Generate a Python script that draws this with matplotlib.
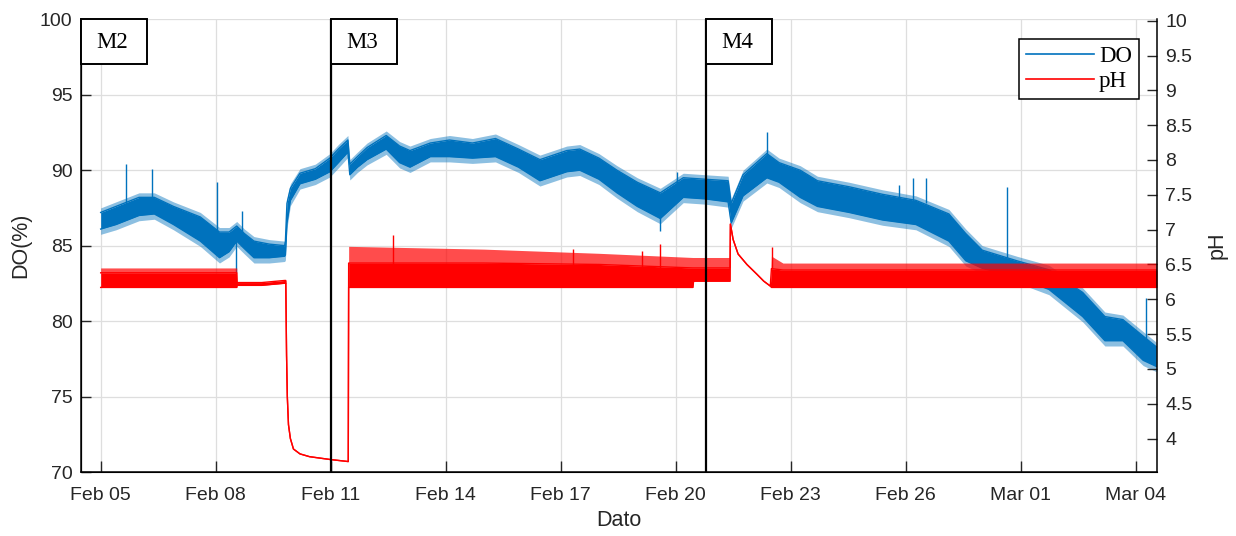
import datetime as dt
import numpy as np
import matplotlib
matplotlib.use("Agg")
import matplotlib.pyplot as plt
import matplotlib.dates as mdates
import matplotlib.transforms as mtransforms
from matplotlib.patches import Rectangle
from matplotlib.lines import Line2D

# days after Feb 05 (2019) 00:00
start = dt.datetime(2019, 2, 5)

tick_labels = ['Feb 05', 'Feb 08', 'Feb 11', 'Feb 14', 'Feb 17', 'Feb 20',
               'Feb 23', 'Feb 26', 'Mar 01', 'Mar 04']

# DO(%) band: lower / upper edge of the noisy trace
do_t = [0.0, 0.4, 1.0, 1.4, 1.9, 2.6, 3.1, 3.35, 3.55, 3.75, 4.0, 4.4, 4.8, 4.82,
        4.86, 4.95, 5.2, 5.6, 5.98, 6.2, 6.45, 6.5, 6.7, 6.95, 7.45, 7.8, 8.07,
        8.6, 9.1, 9.7, 10.3, 10.9, 11.46, 12.16, 12.5, 13.0, 13.47, 14.0, 14.6,
        15.2, 15.77, 16.37, 16.45, 16.76, 17.38, 17.7, 18.25, 18.7, 19.53, 20.4,
        21.27, 22.13, 22.57, 23.0, 23.9, 24.74, 25.62, 26.2, 26.67, 27.2, 27.54]
do_lo = [86.1, 86.4, 87.0, 87.1, 86.4, 85.3, 84.2, 84.6, 85.3, 84.8, 84.2, 84.2, 84.3, 84.4,
         86.5, 88.0, 89.1, 89.4, 89.9, 90.5, 91.2, 89.7, 90.2, 90.7, 91.4, 90.5, 90.2,
         90.9, 90.9, 90.8, 90.9, 90.2, 89.3, 89.9, 90.0, 89.4, 88.5, 87.6, 86.8,
         88.2, 88.1, 87.9, 86.5, 88.3, 89.5, 89.2, 88.2, 87.6, 87.2, 86.7,
         86.4, 85.3, 84.0, 83.5, 82.9, 82.1, 80.3, 78.7, 78.7, 77.4, 77.0]
do_hi = [87.2, 87.6, 88.2, 88.2, 87.6, 86.9, 85.9, 85.9, 86.3, 85.8, 85.3, 85.1, 85.0, 85.3,
         87.8, 88.8, 89.8, 90.1, 90.8, 91.4, 92.0, 90.4, 90.9, 91.5, 92.3, 91.6, 91.3,
         91.8, 92.0, 91.8, 92.1, 91.4, 90.7, 91.3, 91.4, 90.8, 90.0, 89.2, 88.5,
         89.5, 89.4, 89.3, 87.8, 89.7, 91.1, 90.5, 90.0, 89.3, 88.9, 88.4,
         88.0, 87.1, 85.8, 84.7, 84.0, 83.4, 81.9, 80.3, 80.1, 79.0, 78.3]
# isolated DO spikes: time, from, to
do_spike_t = [0.66, 1.33, 3.04, 3.52, 3.68, 14.6, 15.04, 17.38, 20.83, 21.2, 21.53, 23.65, 27.27]
do_spike_a = [87.6, 88.1, 85.8, 85.6, 85.8, 87.5, 88.8, 91.0, 87.8, 87.8, 87.8, 84.2, 78.6]
do_spike_b = [90.4, 90.1, 89.2, 83.2, 87.3, 86.0, 89.9, 92.5, 89.0, 89.5, 89.5, 88.9, 81.5]

# pH: lower edge, top of solid part, top of the dense pulses
ph_t = [0.0, 3.55, 3.56, 4.2, 4.8, 4.83, 4.85, 4.87, 4.90, 4.95, 5.03, 5.2, 5.45,
        5.98, 6.46, 6.47, 10.0, 13.0, 15.45, 15.47, 16.42, 16.43, 16.5, 16.63,
        16.86, 17.12, 17.3, 17.47, 17.5, 17.8, 27.56]
ph_lo = [6.17, 6.17, 6.20, 6.20, 6.23, 6.23, 5.20, 4.60, 4.20, 4.00, 3.85, 3.78, 3.74,
         3.70, 3.67, 6.17, 6.17, 6.17, 6.17, 6.26, 6.26, 7.08, 6.86, 6.65,
         6.50, 6.36, 6.26, 6.19, 6.17, 6.17, 6.17]
ph_hi = [6.38, 6.38, 6.24, 6.24, 6.27, 6.27, 5.20, 4.60, 4.20, 4.00, 3.85, 3.78, 3.74,
         3.70, 3.67, 6.52, 6.52, 6.50, 6.45, 6.45, 6.45, 7.08, 6.86, 6.65,
         6.50, 6.36, 6.26, 6.19, 6.44, 6.42, 6.42]
ph_top = [6.45, 6.45, 6.24, 6.24, 6.27, 6.27, 5.20, 4.60, 4.20, 4.00, 3.85, 3.78, 3.74,
          3.70, 3.67, 6.76, 6.72, 6.66, 6.60, 6.60, 6.60, 7.08, 6.86, 6.65,
          6.50, 6.36, 6.26, 6.19, 6.62, 6.52, 6.52]
ph_spike_t = [7.63, 12.33, 14.12, 14.6, 17.52]
ph_spike_v = [6.93, 6.72, 6.69, 6.79, 6.75]

# sample changes
event_names = ['M2', 'M3', 'M4']
event_t = [-0.514, 6.0, 15.79]

do_color = '#0072BD'
ph_color = '#FF0000'

plt.rcParams['font.family'] = ['Liberation Sans', 'DejaVu Sans']

t0 = mdates.date2num(start)
def tx(days):
    return t0 + np.asarray(days, dtype=float)

fig = plt.figure(figsize=(12.36, 5.36), dpi=100)
ax = fig.add_axes([0.0655, 0.1194, 0.8706, 0.8446])
ax2 = ax.twinx()

# DO: solid core plus a soft fringe for the noise
lo = np.array(do_lo)
hi = np.array(do_hi)
ax.fill_between(tx(do_t), lo, hi, color=do_color, lw=0, zorder=2)
ax.fill_between(tx(do_t), lo - 0.35, lo, color=do_color, lw=0, alpha=0.45, zorder=2)
ax.fill_between(tx(do_t), hi, hi + 0.3, color=do_color, lw=0, alpha=0.45, zorder=2)
ax.plot(tx(do_t), lo, color=do_color, lw=1, zorder=2)
ax.plot(tx(do_t), hi, color=do_color, lw=1, zorder=2)
ax.vlines(tx(do_spike_t), do_spike_a, do_spike_b, color=do_color, lw=1, zorder=2)

# pH: solid part plus the lighter pulse region above it
ax2.fill_between(tx(ph_t), ph_lo, ph_hi, color=ph_color, lw=0, zorder=2)
ax2.fill_between(tx(ph_t), ph_hi, ph_top, color=ph_color, lw=0, alpha=0.7, zorder=2)
ax2.plot(tx(ph_t), ph_lo, color=ph_color, lw=1, zorder=2)
ax2.plot(tx(ph_t), ph_hi, color=ph_color, lw=1, zorder=2)
ax2.vlines(tx(ph_spike_t), 6.45, ph_spike_v, color=ph_color, lw=1, zorder=2)

# axes
ax.set_xlim(tx(-0.514), tx(27.56))
ax.set_ylim(70, 100)
ax.set_yticks(np.arange(70, 101, 5))
ax2.set_ylim(3.52, 10.02)
ax2.set_yticks(np.arange(4, 10.01, 0.5))
ax2.yaxis.set_major_formatter(plt.FormatStrFormatter('%g'))

tick_pos = [mdates.date2num(dt.datetime.strptime(s + ' 2019', '%b %d %Y')) for s in tick_labels]
ax.set_xticks(tick_pos)
ax.set_xticklabels(tick_labels)

ax.grid(True, color='#dedede', lw=0.9)
ax.set_axisbelow(True)
for a in (ax, ax2):
    a.spines['top'].set_visible(False)
    a.tick_params(direction='in', length=7, width=1, labelsize=14, colors='#262626', pad=6)
ax.tick_params(axis='x', pad=11, length=8)
ax2.spines['left'].set_visible(False)
ax.spines['right'].set_visible(False)
ax2.spines['right'].set_linewidth(1.1)
ax.spines['left'].set_linewidth(1.1)
ax.spines['bottom'].set_linewidth(1.1)

ax.set_xlabel('Dato', fontsize=15.5, color='#262626', labelpad=4)
ax.set_ylabel('DO(%)', fontsize=15.5, color='#262626', labelpad=6)
ax2.set_ylabel('pH', fontsize=15.5, color='#262626', labelpad=10)

# event markers
trans = mtransforms.blended_transform_factory(ax2.transData, ax2.transAxes)
for name, t in zip(event_names, event_t):
    ax2.axvline(tx(t), color='black', lw=1.6, zorder=5)
    ax2.add_patch(Rectangle((tx(t), 0.902), 1.72, 0.098, transform=trans,
                            facecolor='white', edgecolor='black', lw=1.4, zorder=6,
                            clip_on=False))
    ax2.text(tx(t) + 0.82, 0.949, name, transform=trans, ha='center', va='center',
             fontsize=16.5, family=['Liberation Serif', 'DejaVu Serif'], zorder=7)

handles = [Line2D([], [], color=do_color, lw=1.2), Line2D([], [], color=ph_color, lw=1.2)]
leg = ax2.legend(handles, ['DO', 'pH'], loc='upper right', bbox_to_anchor=(0.983, 0.957),
                 prop={'family': 'Liberation Serif', 'size': 16.5}, fancybox=False,
                 framealpha=1, edgecolor='black', handlelength=3.0, handletextpad=0.2,
                 borderpad=0.3, labelspacing=0.2, borderaxespad=0)
leg.get_frame().set_linewidth(1.1)
leg.set_zorder(8)

fig.savefig('out.png', dpi=100, facecolor='white')
